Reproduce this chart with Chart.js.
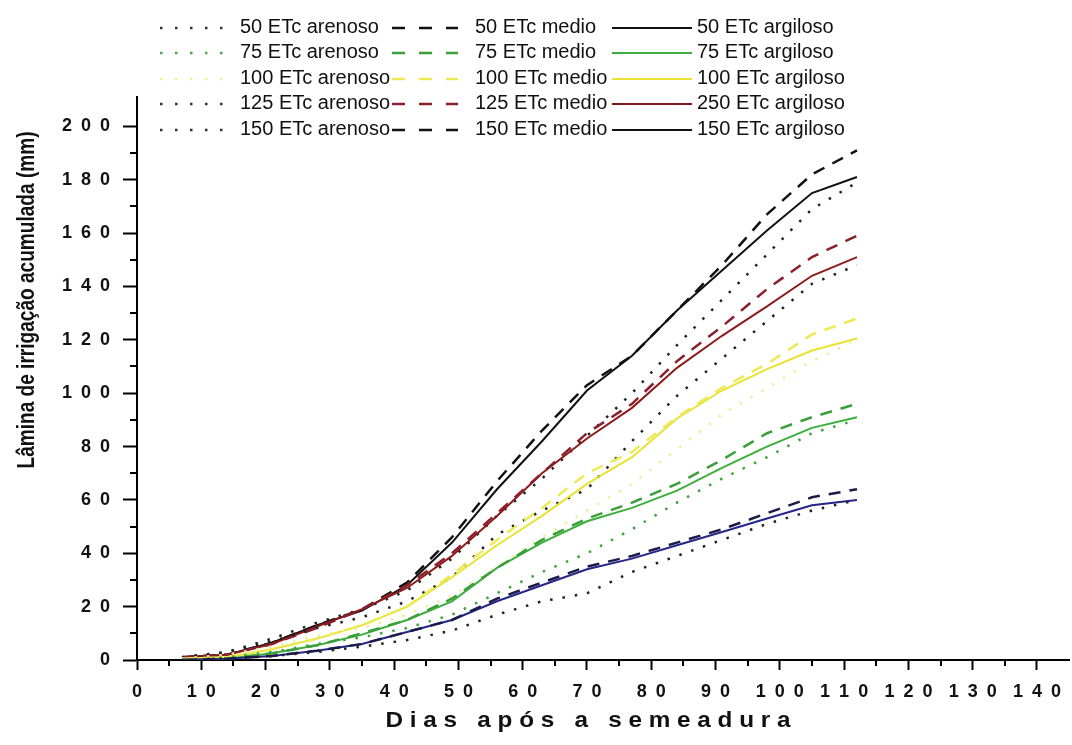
<!DOCTYPE html>
<html>
<head>
<meta charset="utf-8">
<script src="https://cdn.jsdelivr.net/npm/chart.js@4.4.0/dist/chart.umd.min.js"></script>
<style>
    html, body { margin: 0; padding: 0; background: #fff; }
</style>
</head>
<body>
<canvas id="chart" width="1072" height="745"></canvas>
<script>
// dias após a semeadura
const dias = [7, 14, 21, 28, 35, 42, 49, 56, 63, 70, 77, 84, 91, 98, 105, 112];

// lâmina acumulada (mm)
const arenoso50 = [0, 0.5, 1.5, 3, 5, 7.5, 11, 17, 22, 25, 33, 39, 45, 51, 56, 60];
const medio50 = [0, 0.5, 1.5, 3.5, 6, 10.5, 15, 23, 29, 35, 39, 44, 49, 55, 61, 64];
const argiloso50 = [0, 0.5, 1.5, 3.5, 6, 10.5, 15, 22, 28, 34, 38, 43, 48, 53, 58, 60];

const arenoso75 = [0, 1, 3, 6, 8.5, 12, 17, 25, 33, 40, 49, 59, 68, 76, 85, 90];
const medio75 = [0, 0.5, 2.5, 5.5, 10, 15, 23, 34.5, 45, 53, 59, 66, 75, 85, 91, 96];
const argiloso75 = [0, 0.5, 2.5, 5.5, 9.5, 15, 22, 34.5, 44, 52, 57, 63.5, 72, 80, 87, 91];

const arenoso100 = [0.5, 2, 5, 9, 12, 17, 24, 35, 46, 56, 66, 79, 92, 102, 112, 120];
const medio100 = [0.5, 1, 4, 8, 13, 20, 32, 45, 57, 70, 78, 91, 102, 111, 122, 128];
const argiloso100 = [0.5, 1, 4, 8, 13, 20, 31, 43, 54, 66, 76, 90.5, 101, 109, 116, 120.5];

const arenoso125 = [1, 3, 7, 12, 16, 22, 31, 47, 56, 64, 82, 99, 113, 127, 141, 148];
const medio125 = [1, 2, 6, 12, 19, 28, 40, 55, 70, 85, 96, 112, 125, 139, 151, 159];
const argiloso125 = [1, 2, 6, 12.5, 19, 27, 39, 54, 70, 83, 94.5, 109.5, 121.5, 132.5, 144, 151];

const arenoso150 = [1, 3, 8, 14, 19, 26, 38, 54, 68, 84, 100, 118, 135, 152, 169, 179];
const medio150 = [1, 2, 6.5, 13, 19, 29, 46, 67, 86, 103, 114, 131, 148, 167, 182, 191];
const argiloso150 = [1, 2, 6.5, 13, 18.5, 28, 44, 64, 82, 101, 114, 131, 146, 161, 175, 181];

const rotulos = [
    '50 ETc arenoso', '50 ETc medio', '50 ETc argiloso',
    '75 ETc arenoso', '75 ETc medio', '75 ETc argiloso',
    '100 ETc arenoso', '100 ETc medio', '100 ETc argiloso',
    '125 ETc arenoso', '125 ETc medio', '250 ETc argiloso',
    '150 ETc arenoso', '150 ETc medio', '150 ETc argiloso'
];
const series = [
    arenoso50, medio50, argiloso50,
    arenoso75, medio75, argiloso75,
    arenoso100, medio100, argiloso100,
    arenoso125, medio125, argiloso125,
    arenoso150, medio150, argiloso150
];
// cor no gráfico / cor na legenda
const cores = [
    '#222222', '#1c1c48', '#25258a',
    '#3da43d', '#3a9e3a', '#3cae3c',
    '#eeee9a', '#ecea55', '#e8e232',
    '#222222', '#8c1f2c', '#8e1c1c',
    '#222222', '#111111', '#111111'
];
const coresLegenda = [
    '#333333', '#111111', '#111111',
    '#4aa84a', '#3a9e3a', '#3cae3c',
    '#eeee9a', '#ecea55', '#e8e232',
    '#333333', '#8c1f2c', '#7a1a1a',
    '#333333', '#111111', '#111111'
];

const FONTE = '"Liberation Sans", Arial, sans-serif';
const DOT = [2.5, 10];
const DASH = [12, 9];

function estilo(i) {
    const tipo = i % 3; // 0 arenoso, 1 medio, 2 argiloso
    if (tipo === 0) return { borderDash: DOT, borderWidth: 2.5 };
    if (tipo === 1) return { borderDash: DASH, borderWidth: 2.5 };
    return { borderDash: [], borderWidth: 2 };
}

const datasets = series.map((s, i) => Object.assign({
    label: rotulos[i],
    data: dias.map((d, k) => ({ x: d, y: s[k] })),
    borderColor: cores[i],
    legendColor: coresLegenda[i],
    pointRadius: 0,
    tension: 0,
    fill: false,
    borderCapStyle: 'butt'
}, estilo(i)));

function espacar(v) {
    return String(v).split('').join('\u2002');
}

// ticks menores, títulos dos eixos e legenda em 3 colunas
const extras = {
    id: 'extras',
    afterDraw(chart) {
        const ctx = chart.ctx;
        const xs = chart.scales.x;
        const ys = chart.scales.y;
        const area = chart.chartArea;
        ctx.save();
        ctx.strokeStyle = '#000';
        ctx.lineWidth = 2;
        ctx.beginPath();
        for (let v = 5; v < 145; v += 10) {
            const px = Math.round(xs.getPixelForValue(v));
            ctx.moveTo(px, area.bottom);
            ctx.lineTo(px, area.bottom + 6);
        }
        for (let v = 10; v < 210; v += 20) {
            const py = Math.round(ys.getPixelForValue(v));
            ctx.moveTo(area.left - 7, py);
            ctx.lineTo(area.left, py);
        }
        ctx.stroke();

        // título eixo y
        ctx.fillStyle = '#111';
        ctx.textAlign = 'center';
        ctx.textBaseline = 'middle';
        ctx.font = 'bold 23px ' + FONTE;
        const ty = 'Lâmina de irrigação acumulada (mm)';
        ctx.save();
        ctx.translate(28, 300);
        ctx.rotate(-Math.PI / 2);
        ctx.scale(337 / ctx.measureText(ty).width, 1);
        ctx.fillText(ty, 0, 0);
        ctx.restore();

        // título eixo x
        ctx.font = 'bold 22px ' + FONTE;
        const tx = 'D i a s   a p ó s   a   s e m e a d u r a';
        ctx.save();
        ctx.translate(588, 721);
        ctx.scale(405 / ctx.measureText(tx).width, 1);
        ctx.fillText(tx, 0, 0);
        ctx.restore();

        // legenda
        const cols = [
            { x0: 160, x1: 226, tx: 240 },
            { x0: 392, x1: 458, tx: 475 },
            { x0: 612, x1: 692, tx: 697 }
        ];
        const rows = [27, 52, 78, 103, 129];
        ctx.font = '20px ' + FONTE;
        ctx.textAlign = 'left';
        chart.data.datasets.forEach((ds, i) => {
            const c = cols[i % 3];
            const y = rows[Math.floor(i / 3)];
            ctx.save();
            ctx.strokeStyle = ds.legendColor;
            const tipo = i % 3;
            if (tipo === 0) { ctx.setLineDash([2.5, 12.5]); ctx.lineWidth = 2.5; }
            else if (tipo === 1) { ctx.setLineDash([13, 14]); ctx.lineWidth = 2.5; }
            else { ctx.setLineDash([]); ctx.lineWidth = 2; }
            ctx.beginPath();
            ctx.moveTo(c.x0, y + 1);
            ctx.lineTo(c.x1, y + 1);
            ctx.stroke();
            ctx.restore();
            ctx.fillStyle = '#111';
            ctx.fillText(ds.label, c.tx, y);
        });
        ctx.restore();
    }
};

new Chart(document.getElementById('chart'), {
    type: 'line',
    data: { datasets: datasets },
    plugins: [extras],
    options: {
        responsive: false,
        animation: false,
        devicePixelRatio: 1,
        layout: { padding: { top: 97, left: 0, right: 0, bottom: 0 } },
        plugins: {
            legend: { display: false },
            tooltip: { enabled: false }
        },
        scales: {
            x: {
                type: 'linear',
                min: 0,
                max: 145,
                afterBuildTicks: (scale) => {
                    scale.ticks = scale.ticks.filter(t => t.value % 10 === 0 && t.value <= 140);
                },
                afterFit: (scale) => { scale.height = 85; },
                border: { display: true, color: '#000', width: 2 },
                grid: { drawOnChartArea: false, drawTicks: true, tickLength: 10, tickWidth: 2, tickColor: '#000' },
                ticks: {
                    stepSize: 5,
                    autoSkip: false,
                    maxRotation: 0,
                    padding: 11,
                    color: '#111',
                    font: { family: FONTE, size: 18, weight: 'bold' },
                    callback: (v) => espacar(v)
                }
            },
            y: {
                min: 0,
                max: 211,
                afterBuildTicks: (scale) => {
                    scale.ticks = scale.ticks.filter(t => t.value % 20 === 0 && t.value <= 200);
                },
                afterFit: (scale) => { scale.width = 137; },
                border: { display: true, color: '#000', width: 2 },
                grid: { drawOnChartArea: false, drawTicks: true, tickLength: 14, tickWidth: 2, tickColor: '#000' },
                ticks: {
                    stepSize: 10,
                    padding: 13,
                    color: '#111',
                    font: { family: FONTE, size: 18, weight: 'bold' },
                    callback: (v) => espacar(v)
                }
            }
        }
    }
});
</script>
</body>
</html>
